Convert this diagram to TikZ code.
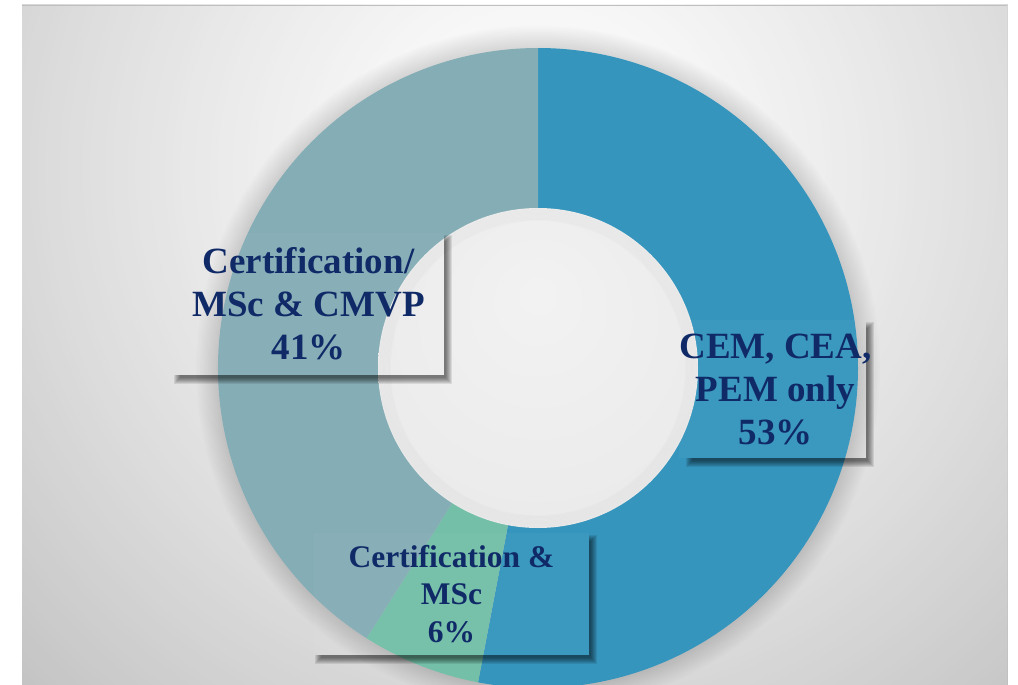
\documentclass[tikz,border=0pt]{standalone}
\usepackage{fontspec}
\setmainfont{Liberation Serif}
\usetikzlibrary{calc}
\definecolor{segblue}{RGB}{53,149,189}
\definecolor{seggreen}{RGB}{115,191,168}
\definecolor{segteal}{RGB}{133,173,181}
\definecolor{navy}{RGB}{16,42,104}
\pgfdeclareradialshading{holeshade}{\pgfpoint{0bp}{12bp}}{color(0bp)=(white!95!black); color(30bp)=(white!92!black); color(44bp)=(white!89!black); color(50bp)=(white!86!black)}
\newcommand{\lblshadow}[4]{%
  \begin{scope}[even odd rule]
    \clip (0,0) rectangle (1018,685) (#1,#2) rectangle (#3,#4);
    \foreach \k in {0,...,6}{
      \fill[black,fill opacity=0.09] ({#1+1+\k},{#2+2+\k}) rectangle ({#3+8-\k},{#4+9-\k});
    }
  \end{scope}}
\tikzset{
  lbl/.style={fill=white, fill opacity=0.03, text opacity=1, text=navy, align=center, inner sep=0pt, font=\bfseries},
  big/.style={font=\fontsize{37}{43}\selectfont\bfseries},
  small/.style={font=\fontsize{31.5}{37.5}\selectfont\bfseries}
}
\begin{document}
\begin{tikzpicture}[x=1pt,y=-1pt]
\useasboundingbox (0,0) rectangle (1018,685);
\fill[white] (0,0) rectangle (1018,685);
% background panel
\begin{scope}
  \clip (22,5) rectangle (1007,685);
  \foreach \i in {0,...,119}{
    \pgfmathsetmacro\dd{900-\i*7.5}
    \pgfmathsetmacro\bb{100-26*(\dd/800)^1.3}
    \fill[white!\bb!black] (540,170) circle (\dd);
  }
\end{scope}
\draw[black!25, line width=0.8pt] (22,5.4) -- (1007,5.4);
\coordinate (C) at (538,368);
% halo around donut
\begin{scope}
  \clip (22,5) rectangle (1007,685);
  \foreach \k in {2,4,...,22}{
    \fill[black, fill opacity=0.012] (C) circle ({320+\k});
  }
  % segments
  \fill[segblue] (C) -- ($(C)+(-90:320)$) arc[start angle=-90, end angle=100.8, radius=320] -- cycle;
  \fill[seggreen] (C) -- ($(C)+(100.8:320)$) arc[start angle=100.8, end angle=122.4, radius=320] -- cycle;
  \fill[segteal] (C) -- ($(C)+(122.4:320)$) arc[start angle=122.4, end angle=270, radius=320] -- cycle;
\end{scope}
% hole
\shade[shading=holeshade] (C) circle (160);
\foreach \k in {1,...,10}{
  \draw[black, draw opacity=0.012, line width=2pt] (C) circle ({160-\k*1.2});
}
% labels
\lblshadow{173}{233}{444}{375}
\lblshadow{685}{320}{866}{458}
\lblshadow{314}{533}{589}{655}
\node[lbl, big, minimum width=271pt, minimum height=142pt] (l41) at (308.5,304) {Certification/\\MSc \& CMVP\\41\%};
\node[lbl, big, minimum width=181pt, minimum height=138pt] (l53) at (775.5,389) {CEM, CEA,\\PEM only\\53\%};
\node[lbl, small, minimum width=275pt, minimum height=122pt] (l6) at (451.5,594) {Certification \&\\MSc\\6\%};
\end{tikzpicture}
\end{document}
